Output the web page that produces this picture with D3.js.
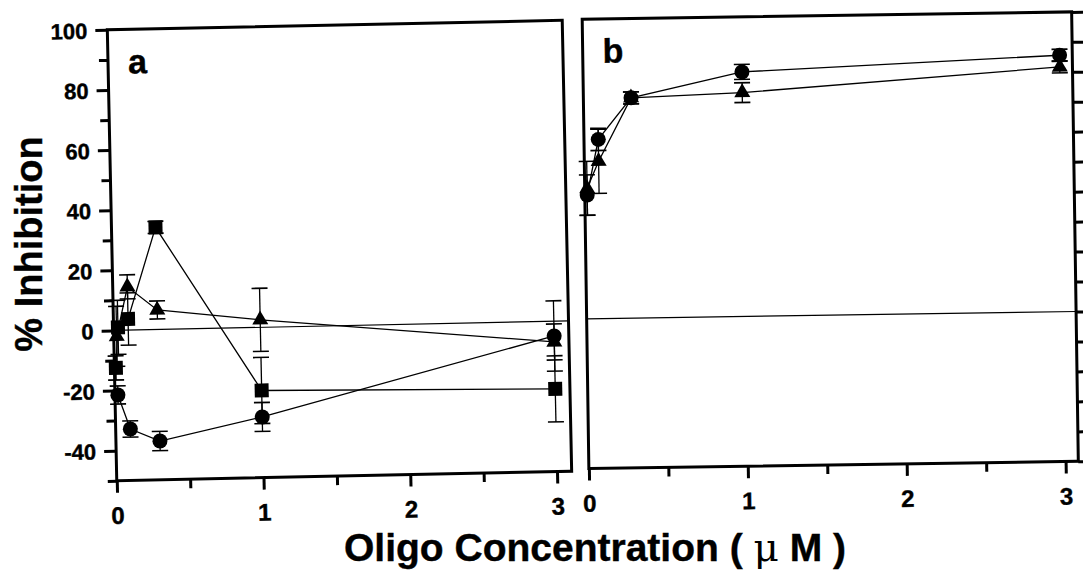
<!DOCTYPE html>
<html>
<head>
<meta charset="utf-8">
<script src="https://cdn.jsdelivr.net/npm/d3@7"></script>
<style>
  html, body { margin: 0; padding: 0; background: #fff; }
  svg text { font-family: "Liberation Sans", Arial, sans-serif; font-weight: bold; fill: #000; stroke: #000; stroke-width: 0.4px; }
</style>
</head>
<body>
<div id="chart"></div>
<script>
// Oligo concentration vs % inhibition, panels a and b

// panel a – concentrations (uM), values (%), error (+/-)
const aCircleX = [0.02, 0.1, 0.3, 1, 3];
const aCircleY = [-21.5, -32.9, -37.1, -29.8, -4.9];
const aCircleE = [3, 2.7, 3.2, 4.8, 11.7];

const aSquareX = [0.01, 0.03, 0.1, 0.3, 1, 3];
const aSquareY = [-12.5, 1, 3.7, 34, -21, -22.5];
const aSquareE = [4, 9, 8.7, 2, 11, 11];

const aTriX = [0.02, 0.1, 0.3, 1, 3];
const aTriY = [-2, 14.4, 6.5, 2.5, -6.9];
const aTriE = [10, 4, 3, 10.5, 6];

// panel b
const bCircleX = [0.015, 0.09, 0.3, 1, 3];
const bCircleY = [41.3, 59.8, 73.5, 81.6, 85.6];
const bCircleE = [6.7, 3.7, 2, 2.5, 2];

const bTriX = [0.015, 0.09, 0.3, 1, 3];
const bTriY = [43.5, 52.5, 73.5, 74.7, 81.7];
const bTriE = [9, 10.7, 2, 3.3, 2];

// axis ticks
const yMajor = [-40, -20, 0, 20, 40, 60, 80, 100];
const yMinor = [-50, -30, -10, 10, 30, 50, 70, 90];
const xMajor = [0, 1, 2, 3];
const xMinor = [0.5, 1.5, 2.5];

const width = 1083, height = 573;

const svg = d3.select("#chart")
  .append("svg")
  .attr("width", width)
  .attr("height", height)
  .style("display", "block");

svg.append("rect").attr("width", width).attr("height", height).attr("fill", "#fff");

const zip = (xs, ys, es) => xs.map((x, i) => ({ x, y: ys[i], e: es[i] }));

function drawPanel(opts) {
  // the scanned figure is slightly tilted, each panel a bit differently
  const g = svg.append("g").attr("transform", opts.rotate);
  const x = opts.x, y = opts.y;
  const [x0, x1] = x.range();
  const [y0, y1] = y.range(); // y0 bottom, y1 top

  // zero reference line
  g.append("line")
    .attr("x1", x(0)).attr("x2", x1)
    .attr("y1", y(0)).attr("y2", y(0))
    .attr("stroke", "#000").attr("stroke-width", 1.2);

  const line = d3.line().x(d => x(d.x)).y(d => y(d.y));

  opts.series.forEach(s => {
    g.append("path")
      .datum(s.data)
      .attr("fill", "none")
      .attr("stroke", "#000")
      .attr("stroke-width", 1.3)
      .attr("d", line);
  });

  opts.series.forEach(s => {
    const eb = g.append("g");
    s.data.forEach(d => {
      eb.append("line")
        .attr("x1", x(d.x)).attr("x2", x(d.x))
        .attr("y1", y(d.y - d.e)).attr("y2", y(d.y + d.e))
        .attr("stroke", "#000").attr("stroke-width", 1.3);
      [d.y - d.e, d.y + d.e].forEach(v => {
        eb.append("line")
          .attr("x1", x(d.x) - 8).attr("x2", x(d.x) + 8)
          .attr("y1", y(v)).attr("y2", y(v))
          .attr("stroke", "#000").attr("stroke-width", 1.6);
      });
    });
    g.selectAll(null)
      .data(s.data)
      .enter()
      .append("path")
      .attr("transform", d => `translate(${x(d.x)},${y(d.y)})`)
      .attr("d", d3.symbol(s.symbol, s.size))
      .attr("fill", "#000");
  });

  // frame
  g.append("rect")
    .attr("x", x0).attr("y", y1)
    .attr("width", x1 - x0).attr("height", y0 - y1)
    .attr("fill", "none")
    .attr("stroke", "#000")
    .attr("stroke-width", 3);

  // x axis
  const xa = g.append("g").attr("transform", `translate(0,${y0})`);
  xa.append("g").call(d3.axisBottom(x).tickValues(xMinor).tickSize(9).tickFormat(""));
  xa.append("g").call(d3.axisBottom(x).tickValues(xMajor).tickSize(12).tickPadding(14)
    .tickFormat(d => String(d)));
  xa.selectAll(".domain").remove();
  xa.selectAll(".tick line").attr("stroke-width", 3);
  xa.selectAll("text").style("font-size", "24px");

  // y axis
  if (opts.leftAxis) {
    const ya = g.append("g").attr("transform", `translate(${x0},0)`);
    ya.append("g").call(d3.axisLeft(y).tickValues(yMinor).tickSize(9).tickFormat(""));
    ya.append("g").call(d3.axisLeft(y).tickValues(yMajor).tickSize(12).tickPadding(8)
      .tickFormat(d => String(d)));
    ya.selectAll(".domain").remove();
    ya.selectAll(".tick line").attr("stroke-width", 3);
    ya.selectAll("text").style("font-size", "22px").attr("dy", "0.36em");
  } else {
    const ya = g.append("g").attr("transform", `translate(${x1},0)`);
    ya.call(d3.axisRight(y).tickValues(yMajor.concat(yMinor)).tickSize(14).tickFormat(""));
    ya.selectAll(".domain").remove();
    ya.selectAll(".tick line").attr("stroke-width", 3);
  }

  g.append("text")
    .attr("x", x0 + 20)
    .attr("y", y1 + 44)
    .style("font-size", "34px")
    .text(opts.label);
}

const circle = d3.symbolCircle, square = d3.symbolSquare, tri = d3.symbolTriangle;

drawPanel({
  label: "a",
  rotate: "rotate(-1.2 340 251)",
  leftAxis: true,
  x: d3.scaleLinear().domain([0, 3.1]).range([112, 567]),
  y: d3.scaleLinear().domain([-50, 100]).range([476, 25]),
  series: [
    { data: zip(aSquareX, aSquareY, aSquareE), symbol: square, size: 196 },
    { data: zip(aTriX, aTriY, aTriE), symbol: tri, size: 111 },
    { data: zip(aCircleX, aCircleY, aCircleE), symbol: circle, size: 177 }
  ]
});

drawPanel({
  label: "b",
  rotate: "rotate(-0.85 830 240)",
  leftAxis: false,
  x: d3.scaleLinear().domain([0, 3.08]).range([585.5, 1075]),
  y: d3.scaleLinear().domain([-50, 100]).range([465, 15.5]),
  series: [
    { data: zip(bTriX, bTriY, bTriE), symbol: tri, size: 111 },
    { data: zip(bCircleX, bCircleY, bCircleE), symbol: circle, size: 177 }
  ]
});

// axis titles
svg.append("text")
  .attr("transform", "translate(42,244) rotate(-90)")
  .attr("text-anchor", "middle")
  .style("font-size", "38px")
  .text("% Inhibition");

const xt = svg.append("text")
  .attr("x", 595)
  .attr("y", 561)
  .attr("text-anchor", "middle")
  .style("font-size", "39px");
xt.append("tspan").text("Oligo Concentration ( ");
xt.append("tspan").style("font-weight", "normal").style("stroke-width", "0")
  .style("font-family", "'DejaVu Serif', serif").text("μ");
xt.append("tspan").text(" M )");
</script>
</body>
</html>
